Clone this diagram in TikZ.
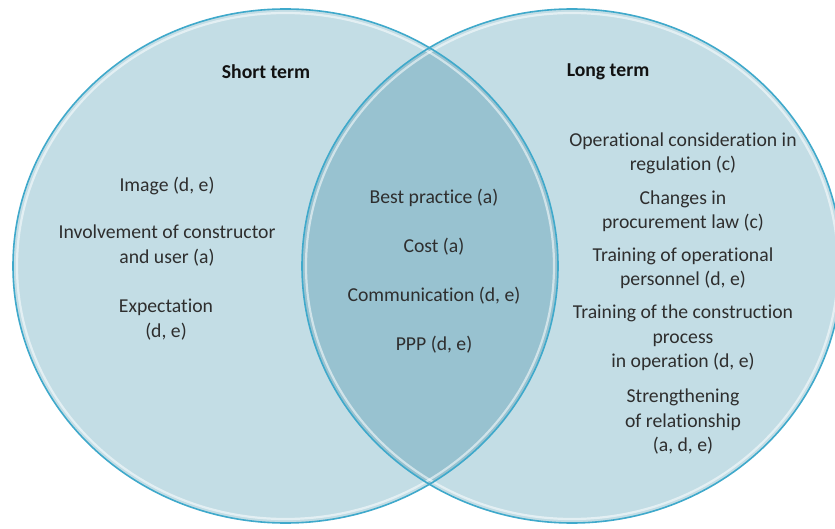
\documentclass[tikz,border=0pt]{standalone}
\usepackage{fontspec}
\setmainfont{Carlito}[Ligatures=NoCommon]
\definecolor{fillL}{HTML}{C3DDE5}
\definecolor{fillO}{HTML}{98C2D0}
\definecolor{rim}{HTML}{3FA9CB}
\definecolor{txt}{HTML}{2E2E2E}
\definecolor{ttl}{HTML}{121212}
\begin{document}
\begin{tikzpicture}[x=1pt,y=-1pt,
  lbl/.style={font=\fontsize{19.7}{24.5}\selectfont, text=txt, align=center, inner sep=0pt},
  ttlbl/.style={font=\fontsize{19.7}{24.5}\selectfont\bfseries, text=ttl, align=center, inner sep=0pt}]
\useasboundingbox (0,0) rectangle (835,529);
\clip (0,0) rectangle (835,529);
\fill[white] (0,0) rectangle (835,529);
% circles
\fill[fillL] (285.5,266) ellipse [x radius=272.5pt, y radius=257pt];
\fill[fillL] (572,266) ellipse [x radius=270pt, y radius=257pt];
\begin{scope}
  \clip (285.5,266) ellipse [x radius=272.5pt, y radius=257pt];
  \fill[fillO] (572,266) ellipse [x radius=270pt, y radius=257pt];
\end{scope}
% glass rims
\draw[white, opacity=0.55, line width=2.2pt] (285.5,266) ellipse [x radius=268.5pt, y radius=253pt];
\draw[white, opacity=0.55, line width=2.2pt] (572,266) ellipse [x radius=266pt, y radius=253pt];
\draw[rim, line width=1.6pt] (285.5,266) ellipse [x radius=272.5pt, y radius=257pt];
\draw[rim, line width=1.6pt] (572,266) ellipse [x radius=270pt, y radius=257pt];
% titles
\node[ttlbl] (short) at (266,72) {Short term};
\node[ttlbl] (long) at (608,72) {Long term};
% left
\node[lbl] (img) at (167,186) {Image (d, e)};
\node[lbl] (inv) at (167,245.5) {Involvement of constructor\\and user (a)};
\node[lbl] (exp) at (166,319.5) {Expectation\\(d, e)};
% centre
\node[lbl] (bp) at (434,198) {Best practice (a)};
\node[lbl] (cost) at (434,247) {Cost (a)};
\node[lbl] (comm) at (434,296) {Communication (d, e)};
\node[lbl] (ppp) at (434,345) {PPP (d, e)};
% right
\node[lbl] (op) at (683,153.5) {Operational consideration in\\regulation (c)};
\node[lbl] (ch) at (683,211) {Changes in\\procurement law (c)};
\node[lbl] (tr) at (683,268) {Training of operational\\personnel (d, e)};
\node[lbl] (tc) at (683,338) {Training of the construction\\process\\in operation (d, e)};
\node[lbl] (st) at (683,422) {Strengthening\\of relationship\\(a, d, e)};
\end{tikzpicture}
\end{document}
